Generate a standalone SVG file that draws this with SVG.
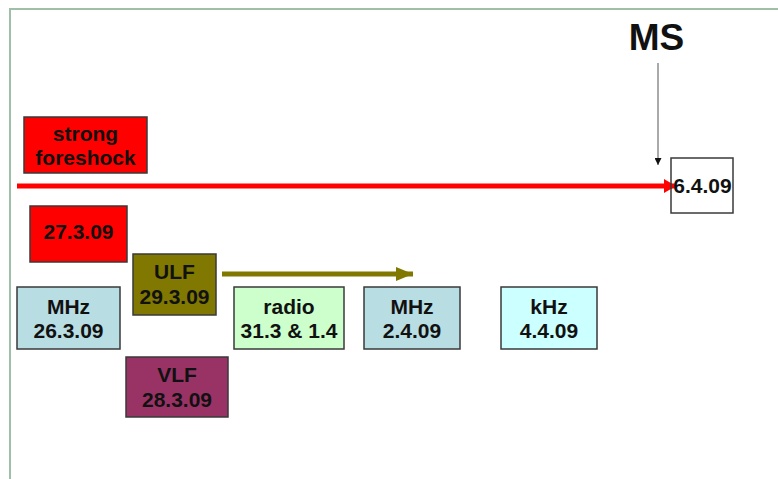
<svg xmlns="http://www.w3.org/2000/svg" width="778" height="479" viewBox="0 0 778 479">
<defs>
<style>
.box{stroke:#3a3a3a;stroke-width:1.5}
.t{font-family:"Liberation Sans",Arial,sans-serif;font-size:21px;font-weight:bold;fill:#111;text-anchor:middle}
</style>
<marker id="ar" viewBox="0 0 12 14" refX="12" refY="7" markerWidth="12" markerHeight="14" orient="auto" markerUnits="userSpaceOnUse"><path d="M0,0L12,7L0,14z" fill="#ff0000"/></marker>
<marker id="ao" viewBox="0 0 17 14" refX="17" refY="7" markerWidth="17" markerHeight="14" orient="auto" markerUnits="userSpaceOnUse"><path d="M0,0L17,7L0,14z" fill="#807800"/></marker>
<marker id="ak" viewBox="0 0 7 7" refX="7" refY="3.5" markerWidth="7" markerHeight="7" orient="auto" markerUnits="userSpaceOnUse"><path d="M0,0L7,3.5L0,7z" fill="#111"/></marker>
</defs>
<rect width="778" height="479" fill="#ffffff"/>
<path d="M10,479V9H778" fill="none" stroke="#9fbfa8" stroke-width="2"/>
<text x="656.5" y="50" font-family="Liberation Sans,Arial,sans-serif" font-size="37" font-weight="bold" text-anchor="middle" fill="#111">MS</text>
<g id="connectors">
<line x1="658" y1="63" x2="658" y2="165" stroke="#555" stroke-width="1" marker-end="url(#ak)"/>
<line x1="17" y1="186" x2="676" y2="186" stroke="#ff0000" stroke-width="5" marker-end="url(#ar)"/>
<line x1="222" y1="274" x2="413" y2="274" stroke="#807800" stroke-width="5" marker-end="url(#ao)"/>
</g>
<g id="n-foreshock"><rect class="box" x="24" y="117" width="123" height="56" fill="#ff0000"/><text class="t" x="85.5" y="141">strong</text><text class="t" x="85.5" y="165">foreshock</text></g>
<g id="n-ms"><rect class="box" x="671" y="158" width="62" height="55" fill="#ffffff" fill-opacity="0"/><text class="t" x="702.5" y="193">6.4.09</text></g>
<g id="n-27"><rect class="box" x="30" y="206" width="97" height="56" fill="#ff0000"/><text class="t" x="78.5" y="239">27.3.09</text></g>
<g id="n-ulf"><rect class="box" x="133" y="254" width="83" height="61" fill="#807800"/><text class="t" x="174.5" y="279">ULF</text><text class="t" x="174.5" y="304">29.3.09</text></g>
<g id="n-mhz1"><rect class="box" x="17" y="287" width="103" height="62" fill="#b8dde3"/><text class="t" x="68.5" y="314">MHz</text><text class="t" x="68.5" y="338">26.3.09</text></g>
<g id="n-vlf"><rect class="box" x="126" y="357" width="102" height="60" fill="#993366"/><text class="t" x="177" y="382">VLF</text><text class="t" x="177" y="407">28.3.09</text></g>
<g id="n-radio"><rect class="box" x="234" y="287" width="110" height="62" fill="#ccffcc"/><text class="t" x="289" y="314">radio</text><text class="t" x="289" y="338">31.3 &amp; 1.4</text></g>
<g id="n-mhz2"><rect class="box" x="364" y="287" width="96" height="62" fill="#b8dde3"/><text class="t" x="412" y="314">MHz</text><text class="t" x="412" y="338">2.4.09</text></g>
<g id="n-khz"><rect class="box" x="501" y="287" width="96" height="62" fill="#ccffff"/><text class="t" x="549" y="314">kHz</text><text class="t" x="549" y="338">4.4.09</text></g>
</svg>
